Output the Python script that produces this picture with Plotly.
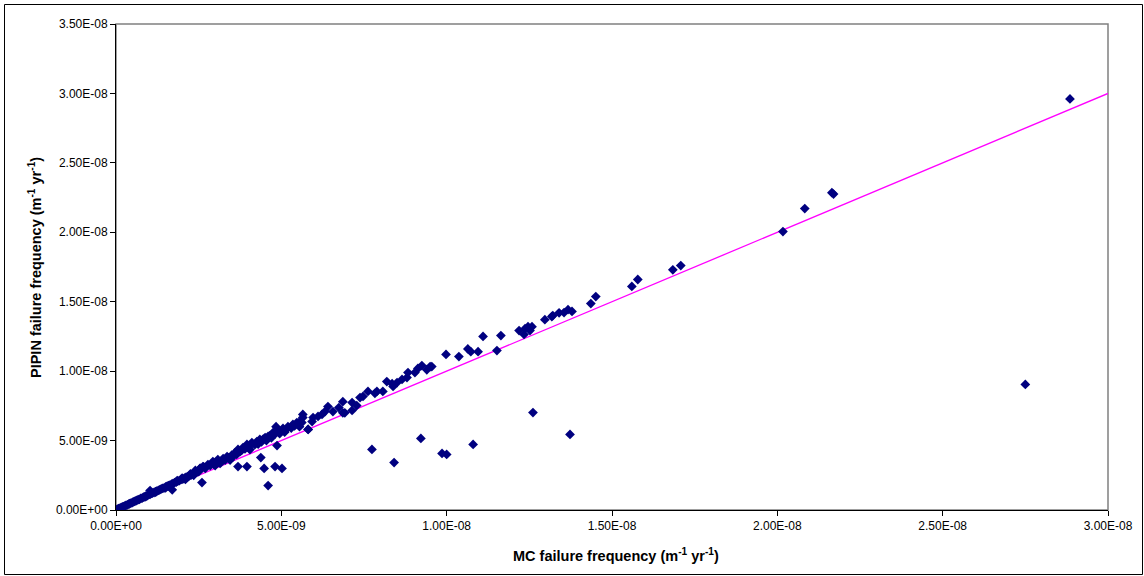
import numpy as np
import plotly.graph_objects as go

# Failure frequencies in units of 1e-9 per metre-year (MC estimate vs PIPIN estimate)
mc_freq_e9 = [
    0.02, 0.05, 0.08, 0.10, 0.13, 0.16, 0.20, 0.23, 0.27, 0.30, 0.34, 0.38, 0.41, 0.45,
    0.49, 0.52, 0.56, 0.60, 0.63, 0.67, 0.71, 0.75, 0.79, 0.83, 0.87, 0.90, 0.95, 0.99,
    1.03, 1.07, 1.10, 1.15, 1.19, 1.23, 1.28, 1.32, 1.36, 1.40, 1.45, 1.50, 1.54, 1.58,
    1.63, 1.68, 1.72, 1.77, 1.82, 1.87, 1.92, 1.97, 2.02, 2.07, 2.12, 2.17, 2.22, 2.27,
    2.33, 2.38, 2.44, 2.50, 1.20, 1.60, 2.00, 2.25, 2.35, 0.90, 1.50, 1.85, 2.10, 1.03,
    1.70, 2.40, 2.55, 2.65, 2.60,
    2.70, 2.85, 2.95, 3.00, 3.10, 3.15, 3.30, 3.40, 3.45, 3.50, 3.65, 3.75, 3.80, 3.90,
    4.00, 4.05, 4.20, 4.30, 4.40, 4.45, 4.55, 4.60, 4.70, 4.80, 4.95, 5.10, 5.15, 5.30,
    5.40, 5.50, 5.55,
    2.54, 2.63, 2.78, 2.93, 3.08, 3.24, 3.36, 3.54, 3.60, 3.69, 3.84, 3.96, 4.11, 4.26,
    4.35, 4.51, 4.66, 4.75, 4.84, 4.90, 5.05, 5.20, 5.35, 5.47, 5.56, 5.65, 5.81, 4.87,
    3.69, 3.96, 4.38, 4.48, 4.81, 5.02, 4.60,
    5.62, 5.65, 5.81, 5.93, 5.96, 6.11, 6.23, 6.32, 6.41, 6.56, 6.74, 6.86, 6.92, 7.14,
    7.14, 7.28, 7.38, 7.47, 7.62, 7.83, 7.89, 8.07, 8.19, 8.35, 8.38, 8.50, 8.65, 8.80,
    8.83, 9.04, 9.13, 9.25, 9.40, 9.50, 6.86,
    7.74, 8.41, 9.22, 9.86, 10.00, 10.80,
    9.55, 9.98, 10.37, 10.64, 10.73, 10.95, 11.10, 11.52, 11.64, 12.19, 12.34, 12.37,
    12.46, 12.52, 12.58, 12.97, 13.18, 13.21, 13.40, 13.55, 13.67, 13.79, 14.36, 14.51,
    12.61, 13.73,
    15.60, 15.78, 16.84, 17.08, 20.17, 20.83, 21.65, 21.70, 28.85, 27.50,
]
pipin_freq_e9 = [
    0.02, 0.06, 0.09, 0.11, 0.14, 0.18, 0.22, 0.25, 0.30, 0.33, 0.37, 0.42, 0.45, 0.50,
    0.53, 0.58, 0.62, 0.65, 0.70, 0.74, 0.77, 0.83, 0.86, 0.92, 0.95, 1.00, 1.04, 1.10,
    1.13, 1.19, 1.22, 1.26, 1.32, 1.35, 1.41, 1.45, 1.50, 1.56, 1.58, 1.66, 1.70, 1.76,
    1.79, 1.86, 1.90, 1.97, 2.00, 2.08, 2.12, 2.20, 2.22, 2.30, 2.36, 2.38, 2.47, 2.52,
    2.60, 2.63, 2.72, 2.76, 1.28, 1.72, 2.30, 2.60, 2.50, 0.97, 1.60, 2.12, 2.20, 1.40,
    1.45, 2.85, 3.00, 3.10, 1.98,
    3.00, 3.20, 3.30, 3.20, 3.45, 3.35, 3.60, 3.75, 3.60, 3.95, 4.00, 4.20, 4.30, 4.40,
    4.50, 4.35, 4.70, 4.75, 4.90, 5.10, 5.00, 5.30, 5.20, 5.45, 5.50, 5.60, 5.80, 5.90,
    6.05, 6.20, 6.00,
    2.99, 3.13, 3.27, 3.49, 3.63, 3.70, 3.85, 3.85, 4.14, 4.36, 4.50, 4.72, 4.86, 4.93,
    5.08, 5.22, 5.36, 5.58, 6.00, 5.65, 5.87, 6.00, 6.16, 6.30, 6.37, 6.88, 5.80, 4.64,
    3.13, 3.13, 3.78, 2.99, 3.13, 2.99, 1.76,
    6.30, 6.66, 5.80, 6.37, 6.66, 6.74, 6.88, 7.09, 7.45, 7.09, 7.38, 7.80, 7.00, 7.74,
    7.17, 7.52, 8.10, 8.18, 8.54, 8.40, 8.54, 8.54, 9.25, 9.10, 8.90, 9.18, 9.40, 9.54,
    9.90, 9.90, 10.19, 10.40, 10.10, 10.33, 7.00,
    4.36, 3.42, 5.15, 4.07, 4.00, 4.72,
    10.33, 11.20, 11.05, 11.60, 11.40, 11.40, 12.50, 11.48, 12.56, 12.92, 12.64, 13.06,
    13.20, 12.92, 13.20, 13.71, 13.93, 14.00, 14.20, 14.22, 14.43, 14.30, 14.87, 15.37,
    7.02, 5.44,
    16.10, 16.60, 17.30, 17.60, 20.05, 21.71, 22.85, 22.75, 29.60, 9.04,
]

# Equality line y = x
line_x_e9 = [0.0, 30.0]

x_tick_vals_e9 = [0, 5, 10, 15, 20, 25, 30]
x_tick_text = ["0.00E+00", "5.00E-09", "1.00E-08", "1.50E-08", "2.00E-08", "2.50E-08", "3.00E-08"]
y_tick_vals_e9 = [0, 5, 10, 15, 20, 25, 30, 35]
y_tick_text = ["0.00E+00", "5.00E-09", "1.00E-08", "1.50E-08", "2.00E-08", "2.50E-08",
               "3.00E-08", "3.50E-08"]

scale = 1e-9
mc = np.array(mc_freq_e9) * scale
pipin = np.array(pipin_freq_e9) * scale
line_x = np.array(line_x_e9) * scale

fig = go.Figure()
fig.add_trace(go.Scatter(
    x=line_x, y=line_x, mode="lines",
    line=dict(color="#FF00FF", width=1.3),
    hoverinfo="skip", showlegend=False,
))
fig.add_trace(go.Scatter(
    x=mc, y=pipin, mode="markers",
    marker=dict(symbol="diamond", size=7.5, color="#000080", line=dict(width=0)),
    showlegend=False,
))

tick_font = dict(family="Liberation Sans, Arial, sans-serif", size=12, color="black")
title_font = dict(family="Liberation Sans, Arial, sans-serif", size=14.5, color="black")

fig.update_xaxes(
    range=[0, 3.0e-8], tickvals=np.array(x_tick_vals_e9) * scale, ticktext=x_tick_text,
    showgrid=False, zeroline=False, showline=True, linecolor="black", linewidth=1,
    ticks="outside", ticklen=5, tickcolor="black", tickfont=tick_font,
)
fig.update_yaxes(
    range=[0, 3.5e-8], tickvals=np.array(y_tick_vals_e9) * scale, ticktext=y_tick_text,
    showgrid=False, zeroline=False, showline=True, linecolor="black", linewidth=1,
    ticks="outside", ticklen=5, tickcolor="black", tickfont=tick_font,
)

W, H = 1144, 576
ml, mr, mt, mb = 116, 36, 24, 66
pw, ph = W - ml - mr, H - mt - mb


def px_to_paper_x(px):
    return (px - ml) / pw


def px_to_paper_y(py):
    return (H - mb - py) / ph


fig.update_layout(
    width=W, height=H,
    margin=dict(l=ml, r=mr, t=mt, b=mb),
    paper_bgcolor="white", plot_bgcolor="white",
    shapes=[
        # plot-area frame (top and right edges show in grey)
        dict(type="rect", xref="paper", yref="paper", x0=0, y0=0, x1=1, y1=1,
             line=dict(color="#808080", width=1.5), layer="below"),
        # outer chart border
        dict(type="rect", xref="paper", yref="paper",
             x0=px_to_paper_x(4.5), x1=px_to_paper_x(1142.5),
             y0=px_to_paper_y(574.5), y1=px_to_paper_y(4.5),
             line=dict(color="black", width=1)),
    ],
    annotations=[
        dict(text="<b>MC failure frequency (m<sup>-1</sup> yr<sup>-1</sup>)</b>",
             xref="paper", yref="paper", x=px_to_paper_x(616), y=px_to_paper_y(555),
             xanchor="center", yanchor="middle", showarrow=False, font=title_font),
        dict(text="<b>PIPIN failure frequency (m<sup>-1</sup> yr<sup>-1</sup>)</b>",
             xref="paper", yref="paper", x=px_to_paper_x(35), y=px_to_paper_y(268),
             xanchor="center", yanchor="middle", textangle=-90, showarrow=False,
             font=title_font),
    ],
)

fig.write_html("out.html")
